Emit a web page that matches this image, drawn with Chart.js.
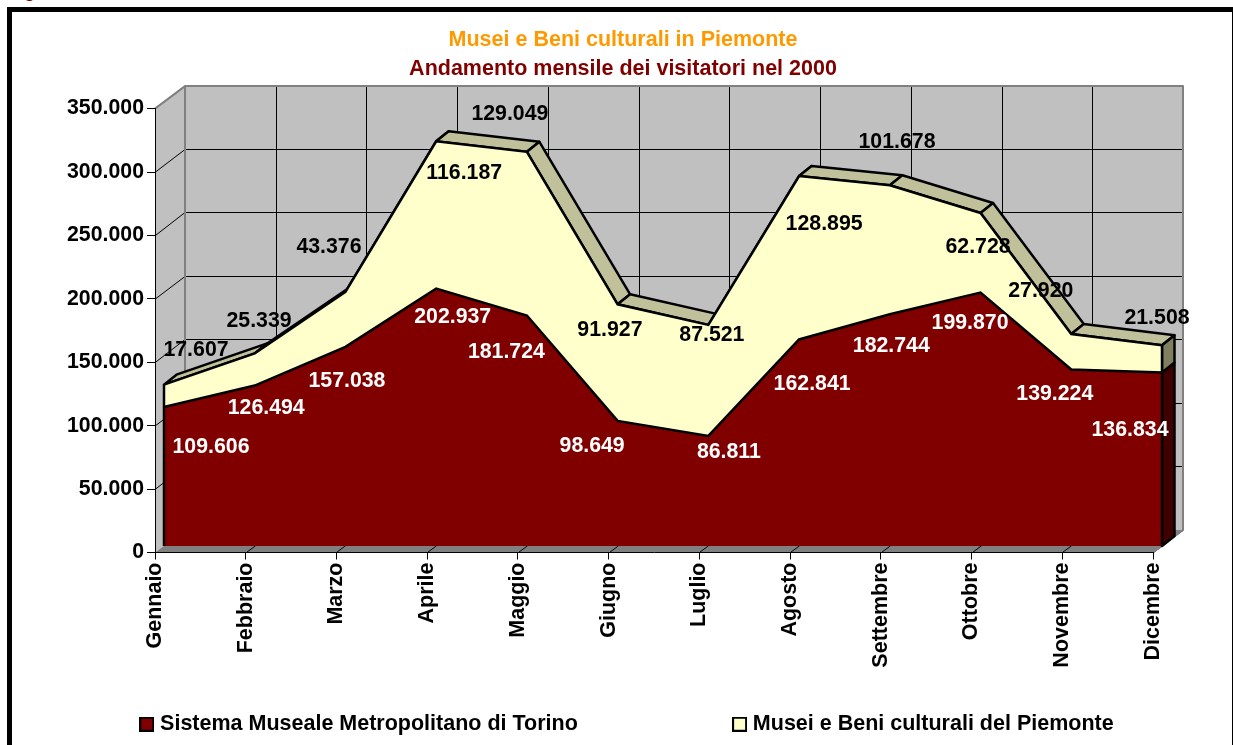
<!DOCTYPE html>
<html lang="it">
<head>
<meta charset="utf-8">
<title>Musei e Beni culturali in Piemonte</title>
<script src="https://cdn.jsdelivr.net/npm/chart.js@4"></script>
<style>
html,body{margin:0;padding:0;background:#fff;width:1233px;height:745px;overflow:hidden}
#frame{position:absolute;left:7px;top:7px;width:1230px;height:800px;border:5px solid #000;box-sizing:border-box}
#cut{position:absolute;left:24px;top:-19px;font:bold 18px "Liberation Sans",Arial,sans-serif;color:#800000}
canvas{position:absolute;left:0;top:0;display:block}
</style>
</head>
<body>
<div id="frame"></div>
<div id="cut">g</div>
<canvas id="c" width="1233" height="745"></canvas>
<script>
const months = ['Gennaio','Febbraio','Marzo','Aprile','Maggio','Giugno','Luglio','Agosto','Settembre','Ottobre','Novembre','Dicembre'];
const torino = [109606,126494,157038,202937,181724,98649,86811,162841,182744,199870,139224,136834];
const piemonte = [17607,25339,43376,116187,129049,91927,87521,128895,101678,62728,27920,21508];
const seriesNames = ['Sistema Museale Metropolitano di Torino','Musei e Beni culturali del Piemonte'];
const titleText = 'Musei e Beni culturali in Piemonte';
const subtitleText = 'Andamento mensile dei visitatori nel 2000';

/* layout only: how far each value label sits from its point, in pixels */
const torinoLabelShift = [[47,40.5],[11.5,23],[1.5,34.5],[16.5,28.5],[-20.5,37],[-25.5,25.5],[20.5,16.5],[13,45],[1.5,31.5],[-10.5,31],[-16.5,25],[-32,58]];
const piemonteLabelShift = [[32,-35],[4.3,-32.5],[-16.5,-44.5],[28,31.5],[-17,-37.5],[-7.7,25.5],[3.5,10.5],[25,48.5],[7.2,-43.5],[-2.5,34.5],[-30.5,-42.5],[-5,-27.5]];

const FONT = '"Liberation Sans", Arial, sans-serif';
const WALL = {x:30, y:-22.5};     // axis plane to back wall
const FRONT = {x:9, y:-6.5};      // axis plane to front of the area
const BODY = {x:12.5, y:-10};     // thickness of the area
const LEGEND_SHIFT = 6;

const fmt = v => String(v).replace(/\B(?=(\d{3})+(?!\d))/g, '.');

function swatch(color){
  const s = document.createElement('canvas'); s.width = 15; s.height = 15;
  const g = s.getContext('2d');
  g.fillStyle = '#000'; g.fillRect(0,0,15,15);
  g.fillStyle = color; g.fillRect(2,2,11,11);
  return s;
}
function poly(ctx, pts, fill, stroke, lw, open){
  ctx.beginPath();
  pts.forEach((p,i)=> i ? ctx.lineTo(p[0],p[1]) : ctx.moveTo(p[0],p[1]));
  if (!open) ctx.closePath();
  if (fill){ ctx.fillStyle = fill; ctx.fill(); }
  if (stroke){ ctx.strokeStyle = stroke; ctx.lineWidth = lw; ctx.lineJoin = 'round'; ctx.stroke(); }
}
function seg(ctx,x1,y1,x2,y2){ ctx.beginPath(); ctx.moveTo(x1,y1); ctx.lineTo(x2,y2); ctx.stroke(); }

const scene = {
  id:'scene',
  afterLayout(chart){
    chart.legend.left += LEGEND_SHIFT;
    chart.legend.right += LEGEND_SHIFT;
  },
  beforeDraw(chart){
    const {ctx, chartArea:a, scales:{x,y}} = chart;
    ctx.save();
    // side wall, back wall, floor
    poly(ctx,[[a.left,a.top],[a.left+WALL.x,a.top+WALL.y],[a.left+WALL.x,a.bottom+WALL.y],[a.left,a.bottom]],'#c0c0c0');
    poly(ctx,[[a.left+WALL.x,a.top+WALL.y],[a.right+WALL.x,a.top+WALL.y],[a.right+WALL.x,a.bottom+WALL.y],[a.left+WALL.x,a.bottom+WALL.y]],'#c0c0c0');
    poly(ctx,[[a.left,a.bottom],[a.left+WALL.x,a.bottom+WALL.y],[a.right+WALL.x,a.bottom+WALL.y],[a.right,a.bottom]],'#808080');
    // grid
    ctx.strokeStyle = '#000'; ctx.lineWidth = 1;
    y.ticks.forEach((t,i)=>{
      const py = y.getPixelForTick(i);
      if (t.value === 0 || t.value === 350000) return;
      const by = Math.floor(py+WALL.y)+0.5;
      seg(ctx,a.left+0.5,py,a.left+WALL.x,by);
      seg(ctx,a.left+WALL.x,by,a.right+WALL.x,by);
    });
    x.ticks.forEach((t,i)=>{
      const px = Math.round(x.getPixelForTick(i));
      if (i>0 && i<x.ticks.length-1) seg(ctx,px+WALL.x+0.5,a.top+WALL.y,px+WALL.x+0.5,a.bottom+WALL.y);
      if (i>0) seg(ctx,px+0.5,a.bottom,px+0.5+WALL.x,a.bottom+WALL.y);
    });
    // wall edges
    poly(ctx,[[a.left,a.top],[a.left+WALL.x,a.top+WALL.y],[a.right+WALL.x,a.top+WALL.y],[a.right+WALL.x,a.bottom+WALL.y],[a.right,a.bottom]],null,'#808080',2,true);
    ctx.strokeStyle = '#808080'; ctx.lineWidth = 2;
    seg(ctx,a.left+WALL.x,a.top+WALL.y,a.left+WALL.x,a.bottom+WALL.y);
    ctx.restore();
  },
  beforeDatasetsDraw(chart){
    const {ctx, chartArea:a} = chart;
    const low = chart.getDatasetMeta(0).data, top = chart.getDatasetMeta(1).data;
    ctx.save();
    ctx.translate(FRONT.x, FRONT.y);
    // top face of the upper area, one quad per segment
    for (let i=0;i<top.length-1;i++){
      const p=top[i], q=top[i+1];
      poly(ctx,[[p.x,p.y],[q.x,q.y],[q.x+BODY.x,q.y+BODY.y],[p.x+BODY.x,p.y+BODY.y]],'#c0c09a','#000',2.5);
    }
    // right end faces
    const l = low[low.length-1], t = top[top.length-1], bx = a.right, by = a.bottom;
    poly(ctx,[[bx,by],[l.x,l.y],[l.x+BODY.x,l.y+BODY.y],[bx+BODY.x,by+BODY.y]],'#400000','#000',2.5);
    poly(ctx,[[l.x,l.y],[t.x,t.y],[t.x+BODY.x,t.y+BODY.y],[l.x+BODY.x,l.y+BODY.y]],'#808060','#000',2.5);
  },
  afterDatasetsDraw(chart){
    const {ctx, chartArea:a} = chart;
    const top = chart.getDatasetMeta(1).data, low = chart.getDatasetMeta(0).data;
    // vertical outlines at both ends of the area
    ctx.strokeStyle = '#000'; ctx.lineWidth = 2.5;
    seg(ctx,a.left,a.bottom,top[0].x,top[0].y);
    const e = top[top.length-1];
    seg(ctx,a.right,a.bottom,e.x,e.y);
    ctx.restore();
    // value labels
    ctx.save();
    ctx.font = 'bold 21.3px '+FONT;
    ctx.textAlign = 'center'; ctx.textBaseline = 'middle';
    const put = (pts,vals,shift,color)=>{
      ctx.fillStyle = color;
      pts.forEach((p,i)=> ctx.fillText(fmt(vals[i]), p.x+FRONT.x+shift[i][0], p.y+FRONT.y+shift[i][1]));
    };
    put(top,piemonte,piemonteLabelShift,'#000');
    put(low,torino,torinoLabelShift,'#fff');
    ctx.restore();
  }
};

new Chart(document.getElementById('c'),{
  type:'line',
  data:{labels:months,datasets:[
    {label:seriesNames[0],data:torino,backgroundColor:'#800000',borderColor:'#000',borderWidth:2.5,fill:'origin',tension:0,pointRadius:0,clip:false},
    {label:seriesNames[1],data:piemonte,backgroundColor:'#ffffcc',borderColor:'#000',borderWidth:2.5,fill:'-1',tension:0,pointRadius:0,clip:false}
  ]},
  options:{
    responsive:false,animation:false,
    layout:{padding:{left:13,right:0,top:0,bottom:0}},
    scales:{
      x:{
        offset:false,
        grid:{drawOnChartArea:false,drawTicks:true,tickLength:7,color:'#000',tickWidth:1},
        border:{color:'#000',width:1},
        ticks:{color:'#000',font:{family:FONT,weight:'bold',size:21.5},minRotation:90,maxRotation:90,autoSkip:false,padding:3},
        afterFit(s){s.height=151;s.paddingLeft=0;s.paddingRight=0;}
      },
      y:{
        stacked:true,min:0,max:350000,
        grid:{drawOnChartArea:false,drawTicks:true,tickLength:8,color:'#000',tickWidth:1},
        border:{color:'#000',width:1},
        ticks:{stepSize:50000,color:'#000',font:{family:FONT,weight:'bold',size:21.3},padding:3,callback:v=>fmt(v)},
        afterFit(s){s.width=142;s.paddingTop=0;s.paddingBottom=0;}
      },
      margin:{
        position:'right',display:true,
        grid:{display:false},border:{display:false},ticks:{display:false},
        afterFit(s){s.width=80;}
      }
    },
    plugins:{
      title:{display:true,text:titleText,color:'#ff9900',font:{family:FONT,weight:'bold',size:21.5},padding:{top:27,bottom:1}},
      subtitle:{display:true,text:subtitleText,color:'#800000',font:{family:FONT,weight:'bold',size:21.5},padding:{top:2,bottom:27}},
      legend:{
        display:true,position:'bottom',
        labels:{
          color:'#000',font:{family:FONT,weight:'bold',size:21.5},padding:10,
          usePointStyle:true,pointStyleWidth:5,
          generateLabels(chart){
            return chart.data.datasets.map((d,i)=>({
              text:d.label+(i===0?'\u00a0'.repeat(25):''),
              pointStyle:swatch(d.backgroundColor),datasetIndex:i,fillStyle:d.backgroundColor,strokeStyle:'#000',lineWidth:2,fontColor:'#000'
            }));
          }
        }
      },
      tooltip:{enabled:false}
    }
  },
  plugins:[scene]
});
</script>
</body>
</html>
